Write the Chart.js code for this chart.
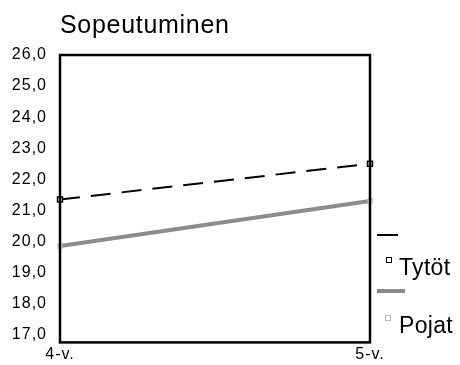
<!DOCTYPE html>
<html>
<head>
<meta charset="utf-8">
<script src="https://cdn.jsdelivr.net/npm/chart.js@4/dist/chart.umd.min.js"></script>
<style>
  html, body { margin: 0; padding: 0; background: #fff; }
  #wrap { position: relative; width: 460px; height: 365px; font-family: "Liberation Sans", Arial, sans-serif; }
  #c { position: absolute; left: 0; top: 0; }
  .title { position: absolute; left: 60px; top: 10px; font-size: 25px; letter-spacing: 0.7px; color: #000; }
  .lg { position: absolute; color: #000; font-size: 23px; letter-spacing: 0.3px; }
  .seg { position: absolute; }
  .mk { position: absolute; box-sizing: border-box; }
</style>
</head>
<body>
<div id="wrap">
  <canvas id="c" width="460" height="365"></canvas>
  <div class="title">Sopeutuminen</div>
  <div class="seg" style="left:377px;top:234px;width:21px;height:2px;background:#000;"></div>
  <div class="mk" style="left:386px;top:257px;border:1.5px solid #000;width:6px;height:6px;"></div>
  <div class="lg" style="left:399px;top:254px;">Tytöt</div>
  <div class="seg" style="left:377px;top:289px;width:28px;height:4px;background:#8a8a8a;"></div>
  <div class="mk" style="left:385px;top:315px;border:1.5px solid #bbb;width:6px;height:6px;"></div>
  <div class="lg" style="left:399px;top:312px;">Pojat</div>
</div>
<script>
const categories = ["4-v.", "5-v."];
const tytot = [21.35, 22.5];
const pojat = [19.85, 21.3];
const seriesNames = ["Tytöt", "Pojat"];

const frame = {
  id: 'frame',
  beforeDraw(chart) {
    chart.ctx.letterSpacing = '1px';
  },
  afterDatasetsDraw(chart) {
    const a = chart.chartArea, ctx = chart.ctx;
    ctx.save();
    ctx.strokeStyle = '#000';
    ctx.lineWidth = 2.5;
    ctx.strokeRect(a.left, a.top, a.right - a.left, a.bottom - a.top);
    ctx.restore();
  }
};

new Chart(document.getElementById('c'), {
  type: 'line',
  data: {
    labels: categories,
    datasets: [
      {
        label: seriesNames[0],
        data: tytot,
        borderColor: '#000',
        borderWidth: 2,
        borderDash: [20, 11],
        pointStyle: 'rect',
        pointRadius: 3.5,
        pointBorderColor: '#000',
        pointBorderWidth: 1.5,
        pointBackgroundColor: '#fff',
        tension: 0
      },
      {
        label: seriesNames[1],
        data: pojat,
        borderColor: '#8c8c8c',
        borderWidth: 4,
        pointStyle: 'rect',
        pointRadius: 3,
        pointBorderColor: '#aaa',
        pointBorderWidth: 1,
        pointBackgroundColor: '#fff',
        tension: 0
      }
    ]
  },
  options: {
    responsive: false,
    animation: false,
    layout: { padding: { left: 0, right: 90, top: 55, bottom: 0 } },
    plugins: { legend: { display: false }, tooltip: { enabled: false } },
    scales: {
      x: {
        offset: false,
        grid: { display: false, drawTicks: false },
        border: { display: false },
        ticks: { color: '#000', font: { family: 'Liberation Sans', size: 16 }, padding: 3, maxRotation: 0 },
        afterFit(s) { s.height = 22; }
      },
      y: {
        min: 16.75,
        max: 26,
        grid: { display: false, drawTicks: false },
        border: { display: false },
        ticks: {
          stepSize: 1,
          includeBounds: false,
          color: '#000',
          padding: 13,
          font: { family: 'Liberation Sans', size: 16 },
          callback: v => v.toFixed(1).replace('.', ',')
        },
        afterFit(s) { s.width = 60; }
      }
    }
  },
  plugins: [frame]
});
</script>
</body>
</html>
